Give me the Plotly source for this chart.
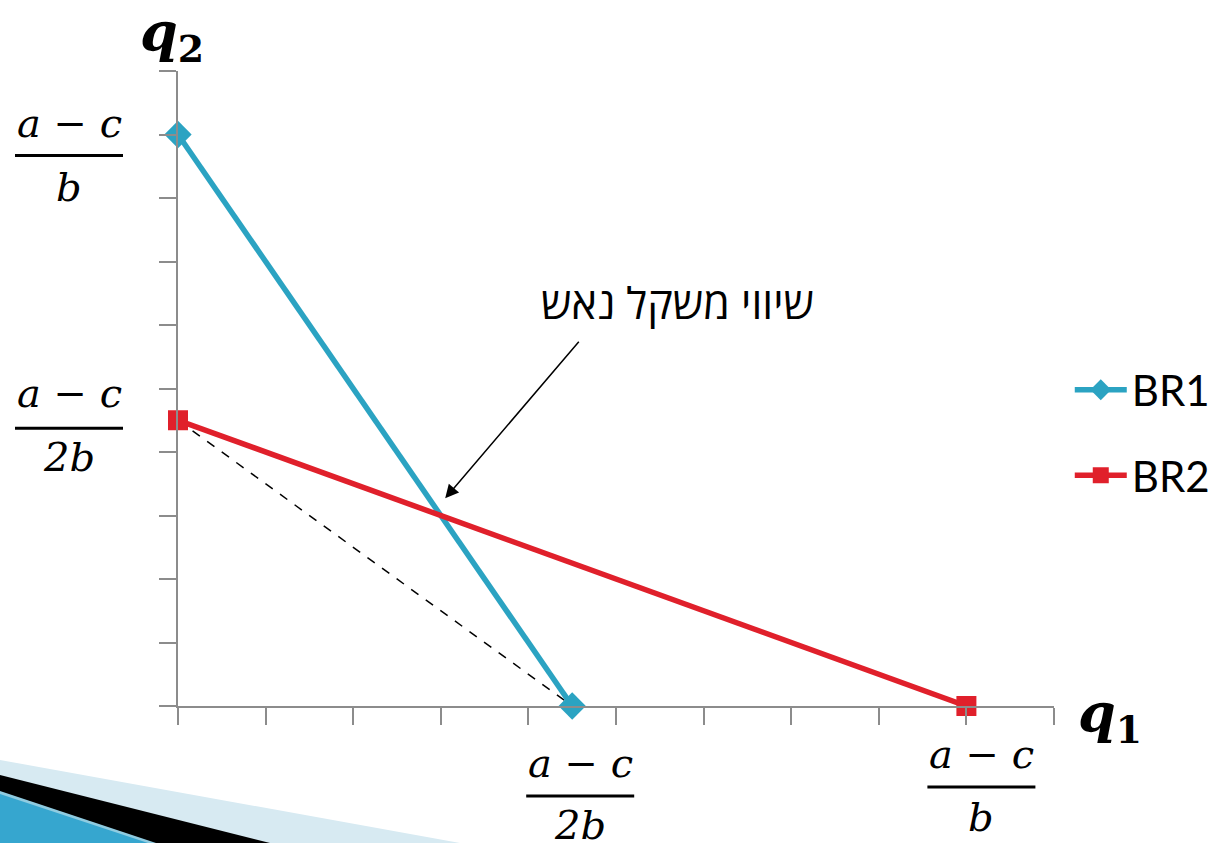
import plotly.graph_objects as go

# best-response lines (units: tick steps, 10 steps per axis)
br1_x = [0, 4.5]
br1_y = [9, 0]
br2_x = [0, 9]
br2_y = [4.5, 0]
guide_x = [0, 4.5]
guide_y = [4.5, 0]

# fraction tick labels: (value, numerator, denominator)
x_labels = [(4.5, "a − c", "2b"), (9, "a − c", "b")]
y_labels = [(9, "a − c", "b"), (4.5, "a − c", "2b")]

nash_label = "שיווי משקל נאש"

W, H = 1219, 843
L, R, T, B = 178, 165, 71, 137
PW, PH = W - L - R, H - T - B


def paper(px, py):
    return (px - L) / PW, (H - B - py) / PH


def path(points):
    pts = [paper(*p) for p in points]
    return "M " + " L ".join(f"{x:.4f},{y:.4f}" for x, y in pts) + " Z"


fig = go.Figure()

fig.add_trace(go.Scatter(
    x=guide_x, y=guide_y, mode="lines", showlegend=False, cliponaxis=False,
    line=dict(color="black", width=1.5, dash="dash"), hoverinfo="skip"))
fig.add_trace(go.Scatter(
    x=br1_x, y=br1_y, mode="lines+markers", name="BR1", legendgroup="a", cliponaxis=False,
    line=dict(color="#2ba3c2", width=5.5),
    marker=dict(symbol="diamond", size=21, color="#2ba3c2")))
fig.add_trace(go.Scatter(
    x=br2_x, y=br2_y, mode="lines+markers", name="BR2", legendgroup="b", cliponaxis=False,
    line=dict(color="#e0202b", width=5.5),
    marker=dict(symbol="square", size=20, color="#e0202b")))

math_font = dict(family="DejaVu Serif, serif", size=40, color="black")
title_font = dict(family="DejaVu Serif, serif", size=54, color="black")
annotations = []
shapes = []

# (x shift, num shift, bar shift, den shift) in pixels, relative to the tick
x_offsets = {4.5: (8, -57, -90, -119), 9: (15, -48, -81, -111)}
y_offsets = {9: (12, -21, -52), 4.5: (27, -8, -37)}

for val, num, den in x_labels:
    xs, yn, yb, yd = x_offsets[val]
    annotations.append(dict(x=val, y=0, xref="x", yref="paper", xanchor="center", yanchor="middle",
                            xshift=xs, yshift=yn, text=f"<i>{num}</i>", showarrow=False, font=math_font))
    annotations.append(dict(x=val, y=0, xref="x", yref="paper", xanchor="center", yanchor="middle",
                            xshift=xs, yshift=yd, text=f"<i>{den}</i>", showarrow=False, font=math_font))
    shapes.append(dict(type="line", xref="x", yref="paper", xsizemode="pixel", ysizemode="pixel",
                       xanchor=val, yanchor=0, x0=xs - 54, x1=xs + 54, y0=yb, y1=yb,
                       line=dict(color="black", width=3)))

for val, num, den in y_labels:
    yn, yb, yd = y_offsets[val]
    annotations.append(dict(x=0, y=val, xref="paper", yref="y", xanchor="center", yanchor="middle",
                            xshift=-109, yshift=yn, text=f"<i>{num}</i>", showarrow=False, font=math_font))
    annotations.append(dict(x=0, y=val, xref="paper", yref="y", xanchor="center", yanchor="middle",
                            xshift=-109, yshift=yd, text=f"<i>{den}</i>", showarrow=False, font=math_font))
    shapes.append(dict(type="line", xref="paper", yref="y", xsizemode="pixel", ysizemode="pixel",
                       xanchor=0, yanchor=val, x0=-163, x1=-55, y0=yb, y1=yb,
                       line=dict(color="black", width=3)))

# axis titles
annotations.append(dict(x=0, y=1, xref="paper", yref="paper", xanchor="center", yanchor="middle",
                        xshift=-6, yshift=36, text="<b><i>q</i><sub>2</sub></b>",
                        showarrow=False, font=title_font))
annotations.append(dict(x=1, y=0, xref="paper", yref="paper", xanchor="center", yanchor="middle",
                        xshift=56, yshift=-10, text="<b><i>q</i><sub>1</sub></b>",
                        showarrow=False, font=title_font))

# nash equilibrium label and arrow
annotations.append(dict(x=5.7, y=6.35, xref="x", yref="y", xanchor="center", yanchor="middle",
                        text=nash_label, showarrow=False,
                        font=dict(family="Open Sans, DejaVu Sans, sans-serif", size=43, color="black")))
annotations.append(dict(x=3.05, y=3.27, ax=4.59, ay=5.76, xref="x", yref="y", axref="x", ayref="y",
                        text="", showarrow=True, arrowhead=2, arrowsize=1.8, arrowwidth=1.5,
                        arrowcolor="black"))

# slide corner decoration
shapes.append(dict(type="path", xref="paper", yref="paper", layer="above", line=dict(width=0),
                   fillcolor="#d7eaf2", path=path([(0, 760), (460, 843), (0, 843)])))
shapes.append(dict(type="path", xref="paper", yref="paper", layer="above", line=dict(width=0),
                   fillcolor="#000000", path=path([(0, 775), (270, 843), (0, 843)])))
shapes.append(dict(type="path", xref="paper", yref="paper", layer="above", line=dict(width=0),
                   fillcolor="#8fcbe0", path=path([(0, 791), (156, 843), (0, 843)])))
shapes.append(dict(type="path", xref="paper", yref="paper", layer="above", line=dict(width=0),
                   fillcolor="#36a6cf", path=path([(0, 794), (148, 843), (0, 843)])))

axis_style = dict(range=[0, 10], dtick=1, tick0=0, showgrid=False, zeroline=False,
                  showline=True, linecolor="#8c8c8c", linewidth=2,
                  ticks="outside", ticklen=17, tickwidth=2, tickcolor="#8c8c8c",
                  showticklabels=False, fixedrange=True)

fig.update_layout(
    width=W, height=H,
    margin=dict(l=L, r=R, t=T, b=B, autoexpand=False),
    paper_bgcolor="white", plot_bgcolor="white",
    xaxis=axis_style, yaxis=axis_style,
    showlegend=True,
    legend=dict(x=1.018, y=0.43, xanchor="left", yanchor="middle",
                font=dict(family="Lato, Open Sans, sans-serif", size=42, color="black"),
                tracegroupgap=28, itemwidth=52, bgcolor="rgba(0,0,0,0)"),
    annotations=annotations,
    shapes=shapes,
)

fig.write_html("out.html", config={"displayModeBar": False},
               post_script="document.body.style.margin='0px';")
